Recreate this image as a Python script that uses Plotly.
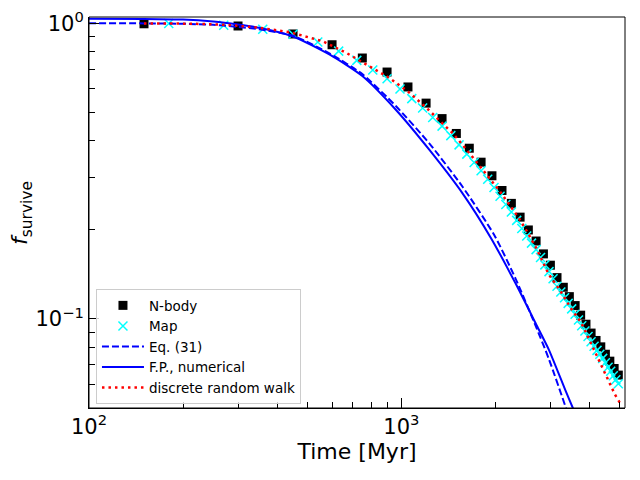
import numpy as np
import plotly.graph_objects as go

# N-body survival fraction (black squares)
nbody_time = [150, 300, 450, 600, 750, 900, 1050, 1200, 1350, 1500, 1650, 1800,
              1950, 2100, 2250, 2400, 2550, 2700, 2850, 3000, 3150, 3300, 3450,
              3600, 3750, 3900, 4050, 4200, 4350, 4500, 4650, 4800, 4950]
nbody_frac = [0.996, 0.979, 0.920, 0.846, 0.763, 0.684, 0.609, 0.537, 0.476,
              0.424, 0.378, 0.339, 0.305, 0.272, 0.246, 0.221, 0.200, 0.1835,
              0.166, 0.152, 0.138, 0.128, 0.119, 0.111, 0.103, 0.096, 0.0896,
              0.0846, 0.0805, 0.0760, 0.0720, 0.0680, 0.0646]

# Map (cyan crosses)
map_time = [180, 270, 360, 450, 540, 630, 720, 810, 900, 990, 1080, 1170, 1260,
            1350, 1440, 1530, 1620, 1710, 1800, 1890, 1980, 2070, 2160, 2250,
            2340, 2430, 2520, 2610, 2700, 2790, 2880, 2970, 3060, 3150, 3240,
            3330, 3420, 3510, 3600, 3690, 3780, 3870, 3960, 4050, 4140, 4230,
            4320, 4410, 4500, 4590, 4680, 4770, 4860, 4950]
map_frac = [0.998, 0.984, 0.955, 0.918, 0.864, 0.805, 0.749, 0.695, 0.649,
            0.599, 0.556, 0.517, 0.480, 0.449, 0.417, 0.388, 0.361, 0.338,
            0.317, 0.297, 0.2785, 0.260, 0.244, 0.230, 0.2155, 0.2024, 0.1907,
            0.1805, 0.1716, 0.1615, 0.1524, 0.1446, 0.1367, 0.1290, 0.1233,
            0.1179, 0.1129, 0.1082, 0.1038, 0.0992, 0.0949, 0.0911, 0.0873,
            0.0838, 0.0809, 0.0783, 0.0760, 0.0736, 0.0711, 0.0687, 0.0666,
            0.0643, 0.0623, 0.0604]

# Eq. (31) (blue dashed)
eq31_time = [100, 150, 200, 250, 290, 350, 450, 590, 750, 960, 1230, 1570,
             1985, 2320, 2700, 2970, 3365, 3500]
eq31_frac = [1.0, 0.999, 0.996, 0.988, 0.975, 0.955, 0.907, 0.790, 0.673,
             0.525, 0.392, 0.280, 0.192, 0.137, 0.094, 0.073, 0.050, 0.044]

# F.P., numerical (blue solid)
fp_time = [100, 150, 200, 250, 300, 350, 450, 590, 750, 960, 1230, 1570, 1935,
           2320, 2700, 2970, 3360, 3540, 3700]
fp_frac = [1.035, 1.034, 1.029, 1.013, 0.990, 0.965, 0.902, 0.783, 0.663,
           0.510, 0.373, 0.266, 0.188, 0.132, 0.096, 0.0785, 0.057, 0.050,
           0.045]

# discrete random walk (red dotted)
rw_time = [150, 210, 270, 345, 440, 560, 665, 750, 900, 1050, 1200, 1350, 1460,
           1640, 1790, 1935, 2090, 2240, 2380, 2530, 2700, 2965, 3230, 3520,
           3760, 3890, 4190, 4510, 4830, 4970, 5000]
rw_frac = [0.998, 0.997, 0.989, 0.968, 0.933, 0.869, 0.795, 0.737, 0.661,
           0.588, 0.519, 0.460, 0.425, 0.367, 0.328, 0.295, 0.266, 0.240,
           0.219, 0.197, 0.174, 0.1416, 0.1243, 0.1072, 0.0974, 0.0905,
           0.0765, 0.0655, 0.0555, 0.0528, 0.052]

fig = go.Figure()
fig.add_trace(go.Scatter(x=nbody_time, y=nbody_frac, mode='markers', name='N-body',
                         marker=dict(symbol='square', size=9, color='black')))
fig.add_trace(go.Scatter(x=map_time, y=map_frac, mode='markers', name='Map',
                         marker=dict(symbol='x-thin', size=9, color='cyan',
                                     line=dict(color='cyan', width=1.5))))
fig.add_trace(go.Scatter(x=eq31_time, y=eq31_frac, mode='lines', name='Eq. (31)',
                         line=dict(color='blue', width=2, dash='7px,3px',
                                   shape='spline', smoothing=0.6)))
fig.add_trace(go.Scatter(x=fp_time, y=fp_frac, mode='lines', name='F.P., numerical',
                         line=dict(color='blue', width=2,
                                   shape='spline', smoothing=0.6)))
fig.add_trace(go.Scatter(x=rw_time, y=rw_frac, mode='lines', name='discrete random walk',
                         line=dict(color='red', width=2.5, dash='2.5px,4px')))

# frame around the axes box
fig.add_shape(type='rect', xref='paper', yref='paper', x0=0, x1=1, y0=0, y1=1,
              line=dict(color='black', width=1), layer='above')

font = 'DejaVu Sans'
# y label as annotation (axis title standoff is ignored without automargin)
fig.add_annotation(text='<i>f</i><sub>survive</sub>', textangle=-90,
                   xref='paper', yref='paper', x=-0.126, y=0.5,
                   xanchor='center', yanchor='middle', showarrow=False,
                   font=dict(size=22, family=font, color='black'))

# the page body adds an 8px margin, so the figure is 8px smaller and margins shifted
fig.update_layout(
    width=632, height=472,
    margin=dict(l=81, r=15, t=9, b=72, autoexpand=False),
    paper_bgcolor='white', plot_bgcolor='white',
    font=dict(family=font, color='black'),
    showlegend=True,
    legend=dict(x=0.013, y=0.01, xanchor='left', yanchor='bottom',
                bgcolor='rgba(255,255,255,0.8)', bordercolor='#cccccc',
                borderwidth=1, font=dict(size=13.5, family=font),
                itemwidth=42, tracegroupgap=0),
    xaxis=dict(type='log', range=[2, np.log10(5200)], automargin=False,
               tickvals=[100, 1000], ticktext=['10<sup>2</sup>', '10<sup>3</sup>'],
               ticks='inside', ticklen=10, tickwidth=1, tickcolor='black',
               minor=dict(tickvals=[200, 300, 400, 500, 600, 700, 800, 900,
                                    2000, 3000, 4000, 5000],
                          ticks='inside', ticklen=6, tickcolor='black'),
               showline=True, linecolor='black', linewidth=1,
               showgrid=False, zeroline=False, ticklabeloverflow='allow',
               tickfont=dict(size=21),
               title=dict(text='Time [Myr]', font=dict(size=22), standoff=2)),
    yaxis=dict(type='log', range=[np.log10(0.05), np.log10(1.05)], automargin=False,
               tickvals=[0.1, 1], ticktext=['10<sup>−1</sup>', '10<sup>0</sup>'],
               ticks='inside', ticklen=10, tickwidth=1, tickcolor='black',
               minor=dict(tickvals=[0.06, 0.07, 0.08, 0.09, 0.2, 0.3, 0.4, 0.5,
                                    0.6, 0.7, 0.8, 0.9],
                          ticks='inside', ticklen=6, tickcolor='black'),
               showline=True, linecolor='black', linewidth=1,
               showgrid=False, zeroline=False, ticklabeloverflow='allow',
               tickfont=dict(size=21)),
)

fig.write_html("out.html")
